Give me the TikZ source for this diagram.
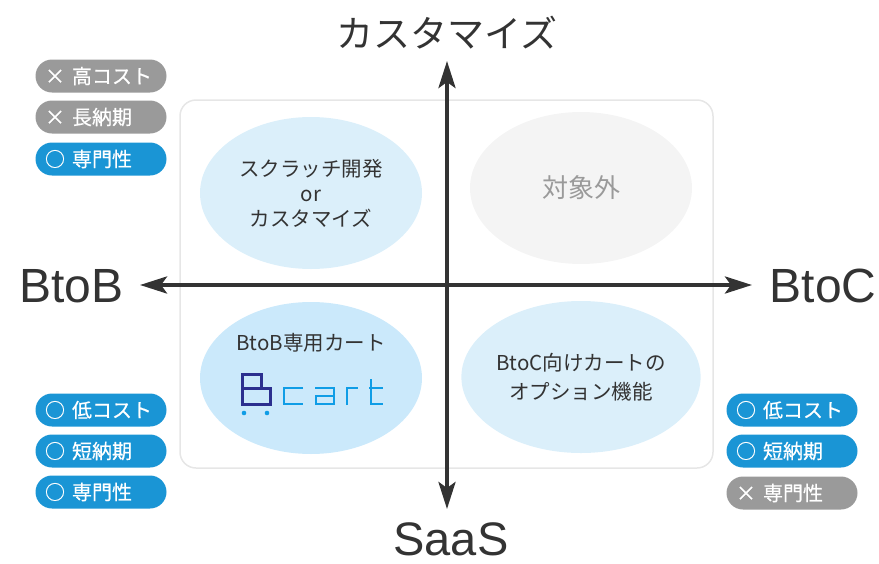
\documentclass[tikz,border=0pt]{standalone}
\usepackage{fontspec}
\setmainfont{Noto Sans CJK JP}
\newfontfamily\latinfont{Liberation Sans}
\newfontfamily\pillfont[FakeBold=0.5]{Noto Sans CJK JP}
\usetikzlibrary{arrows.meta,shapes.geometric}
\definecolor{darktext}{HTML}{333333}
\definecolor{pillblue}{HTML}{1A95D5}
\definecolor{pillgrey}{HTML}{9A9A9A}
\definecolor{elllight}{HTML}{DBEFFA}
\definecolor{ellbcart}{HTML}{CBE9FB}
\definecolor{ellgrey}{HTML}{F4F4F4}
\definecolor{boxedge}{HTML}{E6E6E6}
\definecolor{logonavy}{HTML}{2B2F8F}
\definecolor{logoblue}{HTML}{0F9DE6}
\definecolor{greytext}{HTML}{9A9A9A}
\newcommand\pilltxt[2]{\makebox[114pt][l]{\makebox[22pt]{#1}\hspace{6pt}#2}}
\begin{document}
\begin{tikzpicture}[x=1pt,y=-1pt,
  pill/.style={rounded corners=16.5pt, minimum width=131pt, minimum height=33pt, inner sep=0pt, text=white, font=\pillfont\fontsize{20}{22}\selectfont},
  bluepill/.style={pill, fill=pillblue},
  greypill/.style={pill, fill=pillgrey},
  bubble/.style={ellipse, minimum width=222pt, minimum height=152pt, inner sep=0pt, align=center, text=darktext},
  axislabel/.style={text=darktext, inner sep=0pt, anchor=base},
  axisline/.style={line width=4pt, draw=darktext, arrows={Stealth[length=27pt,width=17pt,inset=6pt]-Stealth[length=27pt,width=17pt,inset=6pt]}},
  logoB/.style={draw=logonavy, line width=3pt},
  logoC/.style={draw=logoblue, line width=2.5pt}
]
\useasboundingbox (0,0) rectangle (879,563);
% frame
\node[draw=boxedge, line width=1.5pt, rounded corners=16pt, minimum width=533pt, minimum height=368pt, inner sep=0pt] (frame) at (446.5,284) {};
% bubbles
\node[bubble, fill=elllight, font=\fontsize{20.5}{25}\selectfont] (tl) at (311,193) {スクラッチ開発\\or\\カスタマイズ};
\node[bubble, fill=ellgrey, text=greytext, font=\fontsize{26}{30}\selectfont] (tr) at (581,188) {対象外};
\node[bubble, fill=ellbcart] (bl) at (311,378) {};
\node[bubble, fill=elllight, font=\fontsize{20.5}{29}\selectfont] (br) at (581,377) {BtoC向けカートの\\オプション機能};
\node[text=darktext, inner sep=0pt, font=\fontsize{20.5}{25}\selectfont] (bltxt) at (311,343) {BtoB専用カート};
% Bcart logo
\draw[logoB] (242,374) rectangle (261,388);
\draw[logoB] (242,388) rectangle (270,404);
\fill[logoblue] (244,413) circle (2.3pt);
\fill[logoblue] (267,413) circle (2.3pt);
\draw[logoC] (303,388) -- (284,388) -- (284,404) -- (303,404);
\draw[logoC] (315,388) -- (334,388) -- (334,405.2);
\draw[logoC] (334,404) -- (316,404) -- (316,396) -- (334,396);
\draw[logoC] (347,405.2) -- (347,388) -- (358,388);
\draw[logoC] (371,379) -- (371,404) -- (383,404);
\draw[logoC] (369,388) -- (383,388);
% axes
\coordinate (L) at (140,285);
\coordinate (R) at (752,285);
\coordinate (T) at (447,61);
\coordinate (B) at (447,509);
\draw[axisline] (L) -- (R);
\draw[axisline] (T) -- (B);
% axis labels
\node[axislabel, font=\fontsize{37}{40}\selectfont] (top) at (447,47) {カスタマイズ};
\node[axislabel, font=\latinfont\fontsize{47}{50}\selectfont] (bottom) at (451,555) {SaaS};
\node[axislabel, font=\latinfont\fontsize{48}{50}\selectfont] (left) at (71.5,302) {BtoB};
\node[axislabel, font=\latinfont\fontsize{48}{50}\selectfont] (right) at (823,302) {BtoC};
% pills left top
\node[greypill] (p1) at (101,76) {\pilltxt{×}{高コスト}};
\node[greypill] (p2) at (101,117) {\pilltxt{×}{長納期}};
\node[bluepill] (p3) at (101,159) {\pilltxt{○}{専門性}};
% pills left bottom
\node[bluepill] (p4) at (101,410) {\pilltxt{○}{低コスト}};
\node[bluepill] (p5) at (101,451) {\pilltxt{○}{短納期}};
\node[bluepill] (p6) at (101,492) {\pilltxt{○}{専門性}};
% pills right bottom
\node[bluepill] (p7) at (792,410) {\pilltxt{○}{低コスト}};
\node[bluepill] (p8) at (792,451) {\pilltxt{○}{短納期}};
\node[greypill] (p9) at (792,493) {\pilltxt{×}{専門性}};
\end{tikzpicture}
\end{document}
